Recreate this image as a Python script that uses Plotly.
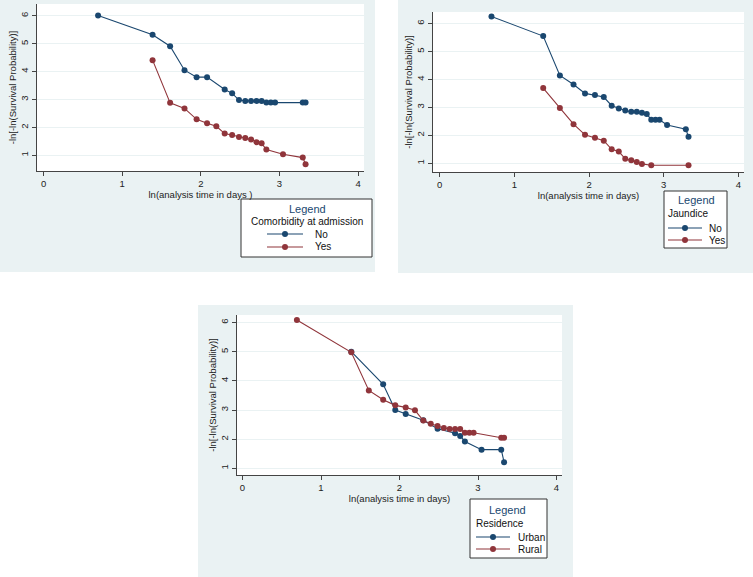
import plotly.graph_objects as go

# ---- data: ln(time) vs -ln[-ln(S)] ----
# panel 1: comorbidity at admission
com_no_x = [0.693, 1.386, 1.609, 1.792, 1.946, 2.079, 2.303, 2.398, 2.485, 2.565,
            2.639, 2.708, 2.773, 2.833, 2.890, 2.944, 3.296, 3.332]
com_no_y = [6.01, 5.32, 4.91, 4.05, 3.80, 3.80, 3.36, 3.22, 2.98, 2.95,
            2.95, 2.95, 2.95, 2.89, 2.89, 2.89, 2.89, 2.89]
com_yes_x = [1.386, 1.609, 1.792, 1.946, 2.079, 2.197, 2.303, 2.398, 2.485,
             2.565, 2.639, 2.708, 2.773, 2.833, 3.045, 3.296, 3.332]
com_yes_y = [4.41, 2.88, 2.68, 2.29, 2.15, 2.04, 1.78, 1.73, 1.66,
             1.62, 1.57, 1.47, 1.43, 1.21, 1.04, 0.92, 0.68]

# panel 2: jaundice
jau_no_x = [0.693, 1.386, 1.609, 1.792, 1.946, 2.079, 2.197, 2.303, 2.398, 2.485,
            2.565, 2.639, 2.708, 2.773, 2.833, 2.890, 2.944, 3.045, 3.296, 3.332]
jau_no_y = [6.25, 5.55, 4.14, 3.82, 3.50, 3.44, 3.37, 3.06, 2.96, 2.89,
            2.84, 2.84, 2.81, 2.76, 2.56, 2.56, 2.56, 2.37, 2.22, 1.95]
jau_yes_x = [1.386, 1.609, 1.792, 1.946, 2.079, 2.197, 2.303, 2.398, 2.485,
             2.565, 2.639, 2.708, 2.833, 3.332]
jau_yes_y = [3.69, 2.98, 2.40, 2.02, 1.91, 1.81, 1.50, 1.42, 1.16,
             1.11, 1.05, 0.98, 0.93, 0.93]

# panel 3: residence
res_urb_x = [1.386, 1.792, 1.946, 2.079, 2.303, 2.485, 2.708, 2.773, 2.833,
             3.045, 3.296, 3.332]
res_urb_y = [5.00, 3.88, 3.00, 2.86, 2.65, 2.36, 2.20, 2.11, 1.92,
             1.64, 1.64, 1.21]
res_rur_x = [0.693, 1.386, 1.609, 1.792, 1.946, 2.079, 2.197, 2.303, 2.398, 2.485,
             2.565, 2.639, 2.708, 2.773, 2.833, 2.890, 2.944, 3.296, 3.332]
res_rur_y = [6.09, 4.98, 3.67, 3.35, 3.16, 3.09, 2.99, 2.64, 2.53, 2.45,
             2.38, 2.35, 2.35, 2.35, 2.22, 2.22, 2.22, 2.05, 2.05]

x_ticks = [0, 1, 2, 3, 4]
y_ticks = [1, 2, 3, 4, 5, 6]

# ---- style ----
W, H = 753, 577
BLUE = "#1a476f"
RED = "#90353b"
BG = "#eaf2f3"
AXIS = "#444444"
FONT = "Arial, Liberation Sans, sans-serif"


def px(x):
    return x / W


def py(y):
    return 1 - y / H


fig = go.Figure()


def add_series(xs, ys, color, axis):
    fig.add_trace(go.Scatter(
        x=xs, y=ys, mode="lines+markers", xaxis="x" + axis, yaxis="y" + axis,
        line=dict(color=color, width=1.1),
        marker=dict(color=color, size=6),
        showlegend=False, hoverinfo="x+y"))


add_series(com_no_x, com_no_y, BLUE, "")
add_series(com_yes_x, com_yes_y, RED, "")
add_series(jau_no_x, jau_no_y, BLUE, "2")
add_series(jau_yes_x, jau_yes_y, RED, "2")
add_series(res_urb_x, res_urb_y, BLUE, "3")
add_series(res_rur_x, res_rur_y, RED, "3")

# panels: (bg box, plot box, x range, y range, x title)
panels = [
    ((0, 0, 375, 272), (37, 4, 364, 171), [-0.084, 4.075], [0.44, 6.42],
     "ln(analysis time in days )"),
    ((398, 0, 753, 273), (433, 12, 744, 172), [-0.09, 4.075], [0.69, 6.41],
     "ln(analysis time in days)"),
    ((198, 305, 573, 577), (237, 315, 562, 475), [-0.07, 4.07], [0.77, 6.26],
     "ln(analysis time in days)"),
]

shapes = []
layout_axes = {}
for i, (bg, pa, xr, yr, xt) in enumerate(panels):
    suffix = "" if i == 0 else str(i + 1)
    shapes.append(dict(type="rect", xref="paper", yref="paper", layer="below",
                       x0=px(bg[0]), x1=px(bg[2]), y0=py(bg[3]), y1=py(bg[1]),
                       fillcolor=BG, line=dict(width=0)))
    shapes.append(dict(type="rect", xref="paper", yref="paper", layer="below",
                       x0=px(pa[0]), x1=px(pa[2]), y0=py(pa[3]), y1=py(pa[1]),
                       fillcolor="white", line=dict(width=0)))
    layout_axes["xaxis" + suffix] = dict(
        domain=[px(pa[0]), px(pa[2])], range=xr, anchor="y" + suffix,
        tickvals=x_ticks, showgrid=False, zeroline=False,
        showline=True, linecolor=AXIS, linewidth=1,
        ticks="outside", ticklen=4, tickcolor=AXIS,
        tickfont=dict(size=9.5, color="#222"),
        title=dict(text=xt, font=dict(size=9.5, color="#222"), standoff=0))
    layout_axes["yaxis" + suffix] = dict(
        domain=[py(pa[3]), py(pa[1])], range=yr, anchor="x" + suffix,
        tickvals=y_ticks, showgrid=True, gridcolor=BG, gridwidth=1,
        zeroline=False, showline=True, linecolor=AXIS, linewidth=1,
        ticks="outside", ticklen=4, tickcolor=AXIS, tickangle=-90,
        tickfont=dict(size=9.5, color="#222"),
        title=dict(text="-ln[-ln(Survival Probability)]",
                   font=dict(size=9.5, color="#222"), standoff=0))

# ---- hand-built Stata style legends ----
annotations = []
legends = [
    # box, title centre x, title y, subtitle, subtitle x, anchor, line x0/x1, label x, rows y, labels
    ((241, 199, 372, 257), 307, 209, "Comorbidity at admission", 307, "center",
     (267, 303), 313, (234, 247), ["No", "Yes"]),
    ((664, 191, 727, 248), 696, 200, "Jaundice", 666, "left",
     (668, 702), 707, (228, 240), ["No", "Yes"]),
    ((470, 499, 547, 558), 508, 510, "Residence", 474, "left",
     (476, 510), 516, (537, 549), ["Urban", "Rural"]),
]
for box, tx, ty, sub, sx, sanchor, (lx0, lx1), lab_x, rows, labels in legends:
    shapes.append(dict(type="rect", xref="paper", yref="paper", layer="below",
                       x0=px(box[0]), x1=px(box[2]), y0=py(box[3]), y1=py(box[1]),
                       fillcolor="white", line=dict(color="#333", width=1)))
    annotations.append(dict(x=px(tx), y=py(ty), xref="paper", yref="paper",
                            text="Legend", showarrow=False, xanchor="center",
                            yanchor="middle", font=dict(size=11, color=BLUE)))
    annotations.append(dict(x=px(sx), y=py(ty + 13), xref="paper", yref="paper",
                            text=sub, showarrow=False, xanchor=sanchor,
                            yanchor="middle", font=dict(size=10, color="#111")))
    for ry, color, lab in zip(rows, [BLUE, RED], labels):
        shapes.append(dict(type="line", xref="paper", yref="paper", layer="above",
                           x0=px(lx0), x1=px(lx1), y0=py(ry), y1=py(ry),
                           line=dict(color=color, width=1.1)))
        cx = (lx0 + lx1) / 2
        shapes.append(dict(type="circle", xref="paper", yref="paper", layer="above",
                           x0=px(cx - 3), x1=px(cx + 3), y0=py(ry + 3), y1=py(ry - 3),
                           fillcolor=color, line=dict(color=color, width=0)))
        annotations.append(dict(x=px(lab_x), y=py(ry), xref="paper", yref="paper",
                                text=lab, showarrow=False, xanchor="left",
                                yanchor="middle", font=dict(size=10, color="#111")))

fig.update_layout(
    width=W, height=H, margin=dict(l=0, r=0, t=0, b=0),
    paper_bgcolor="white", plot_bgcolor="rgba(0,0,0,0)",
    font=dict(family=FONT, size=10, color="#222"),
    shapes=shapes, annotations=annotations, showlegend=False,
    **layout_axes)

# drop the browser's default body margin so the figure sits at the window origin
fig.write_html("out.html", config={"displayModeBar": False},
               post_script="document.body.style.margin='0';document.body.style.overflow='hidden';")
